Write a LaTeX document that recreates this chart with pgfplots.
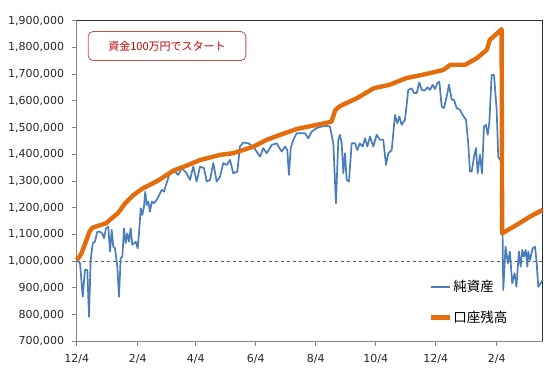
\documentclass[border=0pt]{standalone}
\usepackage{fontspec}
\setmainfont{DejaVu Sans}
\newfontfamily\jp{Noto Sans CJK JP}
\usepackage{pgfplots}
\pgfplotsset{compat=1.18}
\definecolor{blueline}{HTML}{4A7EBB}
\definecolor{orangeline}{HTML}{E46C0A}
\definecolor{axgray}{HTML}{868686}
\definecolor{framec}{HTML}{243342}
\definecolor{boxred}{HTML}{C0504D}
\definecolor{textred}{HTML}{C00000}
\begin{document}
\begin{tikzpicture}[x=1pt,y=1pt]
\useasboundingbox (0,0) rectangle (550,377);
\begin{axis}[
  at={(76.7pt,35.7pt)}, anchor=south west,
  width=466pt, height=320.6pt, scale only axis,
  xmin=0, xmax=473.8, ymin=700000, ymax=1900000,
  axis lines*=left,
  axis line style={axgray, line width=0.8pt},
  tick align=outside, major tick length=5pt,
  tick style={axgray, line width=0.8pt},
  xtick={0,62,121,182,243,304,365,427},
  xticklabels={12/4,2/4,4/4,6/4,8/4,10/4,12/4,2/4},
  ytick={700000,800000,900000,1000000,1100000,1200000,1300000,1400000,1500000,1600000,1700000,1800000,1900000},
  scaled y ticks=false,
  yticklabel style={/pgf/number format/fixed, /pgf/number format/1000 sep={,}, xshift=-4pt},
  xticklabel style={yshift=-5pt},
  /pgf/number format/assume math mode=true,
  ticklabel style={font=\fontsize{11}{13}\selectfont, text=black!85},
  legend style={draw=none, fill=none, at={(0.755,0.195)}, anchor=north west,
    font=\jp\fontsize{13.5}{15}\selectfont, row sep=15pt,
    inner sep=0pt, outer sep=0pt,
    nodes={inner sep=1.5pt}},
  legend cell align=left,
  legend image code/.code={\draw[#1] (0pt,0pt) -- (19pt,0pt);},
  clip=false,
]
\draw[framec, line width=0.8pt] (rel axis cs:0,1) -- (rel axis cs:1,1) -- (rel axis cs:1,0);
\addplot[forget plot, black!65, dashed, dash pattern=on 3.5pt off 2.5pt, line width=0.7pt] coordinates {(0,1000000)(473.8,1000000)};
\addplot[blueline, line width=1.7pt, line join=round] coordinates {
(0,1004000)(3.4,992000)(6.1,867000)(8.4,967000)(10.8,967000)(12.5,792000)(14.2,1004000)(16.3,1067000)(18.6,1073000)(20.9,1110000)(23.7,1110000)(26,1104000)(27.8,1086000)(29.8,1123000)(32.1,1129000)(33.9,1036000)(35.6,1117000)(37.2,1054000)(38.9,1048000)(41.3,979000)(43,867000)(44.7,1011000)(46.4,1017000)(48.1,1123000)(49.8,1067000)(51.4,1104000)(53.2,1073000)(54.9,1123000)(56.5,1061000)(58.3,1067000)(60,1073000)(62,1048000)(63.6,1117000)(65.1,1198000)(66.7,1173000)(68.4,1204000)(69.7,1260000)(71.2,1210000)(72.8,1223000)(74.5,1185000)(76.3,1223000)(78.6,1217000)(81.3,1229000)(84,1248000)(86.4,1267000)(88.8,1260000)(90.8,1285000)(93,1310000)(95,1335000)(98.2,1341000)(103.3,1323000)(106.8,1348000)(111.8,1329000)(115.2,1304000)(118.5,1354000)(122,1298000)(125.4,1354000)(129.4,1348000)(132.2,1298000)(135.5,1304000)(138.9,1367000)(142.3,1298000)(145.7,1316000)(149,1367000)(152.5,1360000)(155.9,1379000)(159.2,1329000)(163.3,1335000)(166,1429000)(169.4,1444000)(174.5,1441000)(179.5,1429000)(186.4,1391000)(189.7,1423000)(193.2,1404000)(198.3,1435000)(203.3,1441000)(208.4,1410000)(211.8,1429000)(214.1,1416000)(215.8,1323000)(217.6,1423000)(220.2,1454000)(223.7,1479000)(228.8,1479000)(232.1,1479000)(235.5,1460000)(238.9,1485000)(244,1498000)(249.1,1504000)(254.2,1506000)(257.5,1504000)(260.9,1441000)(263.6,1217000)(266,1454000)(267.7,1473000)(269.4,1441000)(271.1,1329000)(272.8,1404000)(274.5,1304000)(276.8,1298000)(279.6,1441000)(283,1441000)(285.3,1416000)(288,1441000)(290.8,1429000)(293.1,1460000)(295.5,1429000)(298.2,1466000)(301.6,1429000)(305,1473000)(308.4,1454000)(311.7,1454000)(314.5,1360000)(316.8,1404000)(320.3,1416000)(323.6,1547000)(326,1516000)(328.1,1541000)(330.4,1510000)(333.8,1529000)(337.1,1641000)(340.6,1647000)(342.9,1629000)(345.7,1629000)(348.3,1669000)(350.8,1641000)(354.1,1639000)(356.5,1651000)(359.2,1641000)(361.9,1660000)(364.3,1644000)(366.6,1666000)(368.7,1672000)(371.1,1579000)(373.4,1573000)(376.2,1616000)(378.5,1660000)(381.3,1604000)(383.6,1604000)(386.3,1573000)(389.7,1566000)(392.4,1547000)(395.8,1529000)(398.1,1441000)(399.9,1335000)(401.6,1335000)(404,1391000)(406,1423000)(407.7,1329000)(410,1398000)(412.1,1329000)(414.1,1504000)(416.1,1510000)(417.9,1473000)(419.5,1516000)(421.9,1697000)(424.3,1697000)(427,1566000)(428.6,1391000)(430.4,1379000)(432.1,1379000)(433.7,892000)(436,1054000)(438.4,992000)(440.4,1036000)(442.8,917000)(445.2,955000)(447.1,904000)(449.6,1036000)(451.4,979000)(453.1,1042000)(454.7,1017000)(456.5,1042000)(458.2,979000)(459.1,1036000)(460.9,1004000)(463.6,1048000)(466,1054000)(467.7,992000)(469.3,904000)(471.8,917000)(473.8,930000)
};
\addlegendentry{純資産}
\addplot[orangeline, line width=4.4pt, line join=round] coordinates {
(0,1005000)(2,1012000)(5,1030000)(9,1070000)(13,1110000)(16,1125000)(20,1130000)(30,1142000)(37,1165000)(42,1180000)(49,1215000)(57,1245000)(66,1270000)(82,1300000)(99,1340000)(112,1358000)(125,1378000)(146,1398000)(159,1404000)(180,1429000)(193,1454000)(207,1473000)(224,1495000)(244,1510000)(259,1522000)(263,1566000)(268,1581000)(285,1610000)(302,1647000)(318,1660000)(335,1685000)(356,1701000)(373,1716000)(380,1735000)(395,1735000)(407,1760000)(417,1791000)(420,1828000)(432,1868000)(432.6,1104000)(447,1135000)(461,1167000)(473.8,1192000)
};
\addlegendentry{口座残高}
\end{axis}
\node[draw=boxred, line width=0.8pt, rounded corners=5pt, minimum width=157.7pt, minimum height=29pt, text=textred, font=\jp\fontsize{11}{13}\selectfont, inner sep=0pt] at (167pt,331pt) {資金100万円でスタート};
\end{tikzpicture}
\end{document}
